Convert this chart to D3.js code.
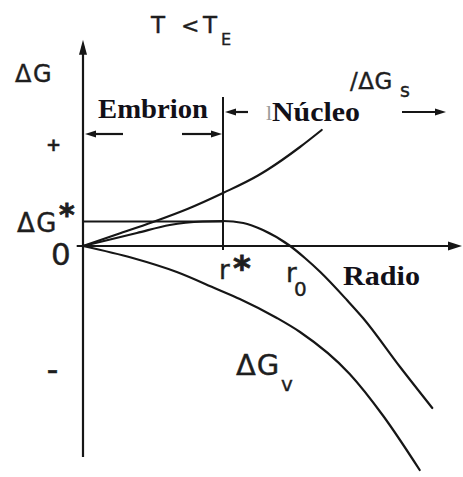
<!DOCTYPE html>
<html>
<head>
<meta charset="utf-8">
<script src="https://cdn.jsdelivr.net/npm/d3@7"></script>
<style>
  html, body { margin: 0; padding: 0; background: #fff; }
  svg { display: block; }
</style>
</head>
<body>
<svg id="chart" width="463" height="477"></svg>
<script>
// Free energy of a spherical cluster vs. its radius (arbitrary units), T < TE
const surfaceR = [0, 0.5, 1.0, 1.5, 2.0, 2.5, 2.63, 3.1, 3.41];
const surfaceG = [0, 0.48, 0.96, 1.49, 2.12, 2.82, 3.04, 3.96, 4.64];
const volumeR  = [0, 0.71, 1.34, 1.91, 2.24, 2.77, 3.1, 3.81, 4.29, 4.81];
const volumeG  = [0, -0.48, -1.04, -1.72, -2.12, -2.88, -3.44, -5.12, -6.8, -8.96];
const totalR   = [0, 0.77, 1.24, 1.71, 2.0, 2.29, 2.57, 2.96, 3.17, 3.39, 3.77, 4.0, 4.53, 4.99];
const totalG   = [0, 0.52, 0.84, 0.98, 1.0, 0.92, 0.64, 0, -0.48, -1.04, -2.16, -2.88, -4.84, -6.48];
const rCritical = 2.0;   // r*
const rZero = 2.96;      // r0
const gCritical = 1.0;   // ΔG*

const svg = d3.select("#chart");
const ink = "#161616";
const sans = "'DejaVu Sans', Verdana, sans-serif";
const serif = "'Liberation Serif', 'Times New Roman', serif";

const x = d3.scaleLinear().domain([0, 5.4]).range([83, 461]);
const y = d3.scaleLinear().domain([-8.5, 8.25]).range([458.5, 39.75]);

const line = d3.line()
  .x(d => x(d[0]))
  .y(d => y(d[1]))
  .curve(d3.curveMonotoneX);

const zip = (a, b) => a.map((v, i) => [v, b[i]]);

// axes
const x0 = x(0), y0 = y(0);
svg.append("line")
  .attr("x1", x0).attr("x2", x0)
  .attr("y1", y(-8.44)).attr("y2", y(8.0))
  .attr("stroke", ink).attr("stroke-width", 2.2);
svg.append("path")
  .attr("d", `M${x0},${y(8.25)} L${x0 - 4},${y(8.25) + 15} L${x0 + 4},${y(8.25) + 15} Z`)
  .attr("fill", ink);

svg.append("line")
  .attr("x1", x(-0.09)).attr("x2", x(5.22))
  .attr("y1", y0).attr("y2", y0)
  .attr("stroke", ink).attr("stroke-width", 2.2);
svg.append("path")
  .attr("d", `M${x(5.4) + 1},${y0} L${x(5.4) - 13},${y0 - 4.5} L${x(5.4) - 13},${y0 + 4.5} Z`)
  .attr("fill", ink);

// critical radius marker and ΔG* level
svg.append("line")
  .attr("x1", x(rCritical)).attr("x2", x(rCritical))
  .attr("y1", y(5.96)).attr("y2", y(-0.16))
  .attr("stroke", ink).attr("stroke-width", 2);
svg.append("line")
  .attr("x1", x0).attr("x2", x(rCritical))
  .attr("y1", y(gCritical) + 0.5).attr("y2", y(gCritical) + 0.5)
  .attr("stroke", ink).attr("stroke-width", 1.8);

// curves: surface term, total, volume term
[[surfaceR, surfaceG], [totalR, totalG], [volumeR, volumeG]].forEach(([r, g]) => {
  svg.append("path")
    .attr("d", line(zip(r, g)))
    .attr("fill", "none")
    .attr("stroke", ink)
    .attr("stroke-width", 2.2)
    .attr("stroke-linecap", "round");
});

// range arrows for embryo and nucleus
function arrow(xFrom, xTo, yy) {
  const dir = Math.sign(xTo - xFrom);
  svg.append("line")
    .attr("x1", xFrom).attr("x2", xTo - dir * 8)
    .attr("y1", yy).attr("y2", yy)
    .attr("stroke", ink).attr("stroke-width", 2.2);
  svg.append("path")
    .attr("d", `M${xTo},${yy} L${xTo - dir * 11},${yy - 3.5} L${xTo - dir * 11},${yy + 3.5} Z`)
    .attr("fill", ink);
}
const embryoY = y(4.48), nucleusY = y(5.36);
arrow(123, x0 + 2, embryoY);
arrow(182, x(rCritical) - 1, embryoY);
arrow(248, x(rCritical) + 2, nucleusY);
arrow(402, 446, nucleusY);

// sans-serif labels
function label(txt, px, py, size, opts = {}) {
  const t = svg.append("text")
    .attr("x", px).attr("y", py)
    .attr("font-family", sans)
    .attr("font-size", size)
    .attr("font-weight", opts.weight || "normal")
    .attr("fill", "#1e1e1e")
    .attr("stroke", "#1e1e1e")
    .attr("stroke-width", opts.stroke == null ? 0.4 : opts.stroke)
    .text(txt);
  if (opts.spacing) t.attr("letter-spacing", opts.spacing);
  return t;
}

label("T", 151, 33, 23);
label("<", 181, 33, 22);
label("T", 203, 33, 23);
label("E", 221, 45, 16);

label("ΔG", 15, 82, 24, { spacing: 1.5 });
label("/ΔG", 350, 89, 23, { spacing: 0.5 });
label("s", 400, 97, 19);

label("+", 46, 151, 18, { weight: "bold" });
label("ΔG", 17, 232, 26, { spacing: 1.5 });
label("*", 59, 225, 30, { weight: "bold", stroke: 0.8 });
label("0", 51, 265, 31);
label("–", 47, 378, 22, { weight: "bold" });

label("r", 219, 279, 26);
label("*", 233, 280, 34, { weight: "bold", stroke: 0.8 });
label("r", 286, 282, 26);
label("0", 294, 296, 20);

label("ΔG", 236, 375, 29, { spacing: 1 });
label("v", 281, 391, 20);

// serif bold region labels
function serifLabel(txt, px, py, len) {
  svg.append("text")
    .attr("x", px).attr("y", py)
    .attr("font-family", serif)
    .attr("font-size", 27)
    .attr("font-weight", "bold")
    .attr("fill", "#121018")
    .attr("textLength", len)
    .attr("lengthAdjust", "spacingAndGlyphs")
    .text(txt);
}
serifLabel("Embrion", 98, 118, 110);
svg.append("text")
  .attr("x", 266).attr("y", 120)
  .attr("font-family", serif).attr("font-size", 22)
  .attr("fill", "#9a9a9a")
  .text("l");
serifLabel("Núcleo", 272, 121, 88);
serifLabel("Radio", 343, 285, 77);
</script>
</body>
</html>
